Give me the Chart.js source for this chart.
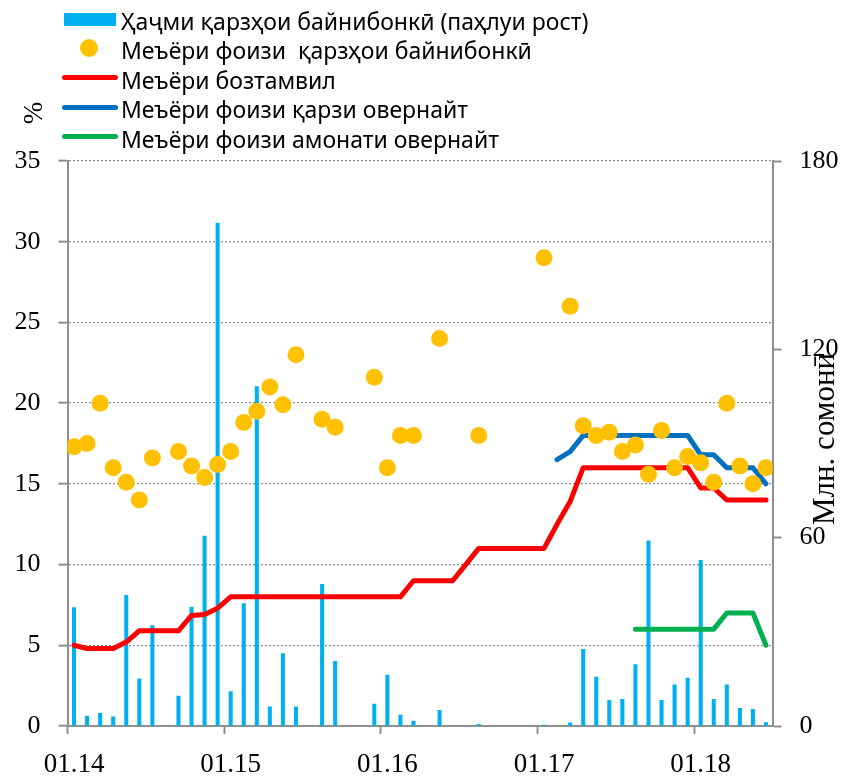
<!DOCTYPE html>
<html>
<head>
<meta charset="utf-8">
<script src="https://cdn.jsdelivr.net/npm/chart.js@4/dist/chart.umd.min.js"></script>
<style>
  html, body { margin: 0; padding: 0; background: #fff; }
  #wrap { position: relative; width: 844px; height: 776px; }
  #legend { position: absolute; left: 0; top: 0; font-family: "Noto Sans", sans-serif; font-size: 23px; color: #000; }
  .axis-title { position: absolute; font-family: "Liberation Serif", serif; color: #000; white-space: nowrap; transform: translate(-50%, -50%) rotate(-90deg); }
</style>
</head>
<body>
<div id="wrap">
  <canvas id="chart"></canvas>
  <div id="legend"></div>
  <div class="axis-title" style="left:33px; top:113px; font-size:27px;">%</div>
  <div class="axis-title" style="left:824px; top:439px; font-size:31px;">Млн. сомонӣ</div>
</div>
<script>
// months Jan 2014 .. Jun 2018
const months = [
  '01.14','02.14','03.14','04.14','05.14','06.14','07.14','08.14','09.14','10.14','11.14','12.14',
  '01.15','02.15','03.15','04.15','05.15','06.15','07.15','08.15','09.15','10.15','11.15','12.15',
  '01.16','02.16','03.16','04.16','05.16','06.16','07.16','08.16','09.16','10.16','11.16','12.16',
  '01.17','02.17','03.17','04.17','05.17','06.17','07.17','08.17','09.17','10.17','11.17','12.17',
  '01.18','02.18','03.18','04.18','05.18','06.18'
]
const tickLabels = ['01.14', '01.15', '01.16', '01.17', '01.18']

// interbank loans volume, mln somoni (right axis)
const loanVolume = [
  37.7, 3.2, 4.0, 2.9, 41.6, 15.0, 32.0, null, 9.5, 37.9, 60.5, 160.2,
  11.0, 39.0, 108.1, 6.1, 23.1, 6.1, null, 45.1, 20.6, null, null, 7.0,
  16.2, 3.5, 1.6, null, 5.0, null, null, 0.5, null, null, null, null,
  0.3, null, 1.0, 24.4, 15.6, 8.2, 8.5, 19.6, 59.0, 8.2, 13.1, 15.3,
  52.8, 8.5, 13.1, 5.6, 5.3, 1.1
]
// interbank loan rate, %
const loanRate = [
  17.3, 17.5, 20.0, 16.0, 15.1, 14.0, 16.6, null, 17.0, 16.1, 15.4, 16.2,
  17.0, 18.8, 19.5, 21.0, 19.9, 23.0, null, 19.0, 18.5, null, null, 21.6,
  16.0, 18.0, 18.0, null, 24.0, null, null, 18.0, null, null, null, null,
  29.0, null, 26.0, 18.6, 18.0, 18.2, 17.0, 17.4, 15.6, 18.3, 16.0, 16.7,
  16.3, 15.1, 20.0, 16.1, 15.0, 16.0
]
// refinancing rate, %
const refiRate = [
  5.0, 4.8, 4.8, 4.8, 5.2, 5.9, 5.9, 5.9, 5.9, 6.85, 6.9, 7.3,
  8, 8, 8, 8, 8, 8, 8, 8, 8, 8, 8, 8,
  8, 8, 9, 9, 9, 9, 10, 11, 11, 11, 11, 11,
  11, 12.5, 13.9, 16, 16, 16, 16, 16, 16, 16, 16, 16,
  14.75, 14.75, 14, 14, 14, 14
]
// overnight loan rate, %
const overnightLoan = [
  null, null, null, null, null, null, null, null, null, null, null, null,
  null, null, null, null, null, null, null, null, null, null, null, null,
  null, null, null, null, null, null, null, null, null, null, null, null,
  null, 16.5, 17.0, 18, 18, 18, 18, 18, 18, 18, 18, 18,
  16.8, 16.8, 16, 16, 16, 15
]
// overnight deposit rate, %
const overnightDeposit = [
  null, null, null, null, null, null, null, null, null, null, null, null,
  null, null, null, null, null, null, null, null, null, null, null, null,
  null, null, null, null, null, null, null, null, null, null, null, null,
  null, null, null, null, null, null, null, 6, 6, 6, 6, 6,
  6, 6, 7, 7, 7, 5
]

const toPoints = arr => arr.map((v, i) => ({ x: i + 0.5, y: v }))
const gray = '#8f8f8f'
const tickFont = { family: 'Liberation Serif', size: 26 }

const lineSet = (label, values, color) => ({
  type: 'line', label: label, data: toPoints(values), yAxisID: 'y',
  borderColor: color, backgroundColor: color, borderWidth: 5,
  borderJoinStyle: 'round', borderCapStyle: 'round',
  pointRadius: 0, tension: 0, spanGaps: false, order: 1
})

const datasets = [
  {
    type: 'bar', label: 'Ҳаҷми қарзҳои байнибонкӣ (паҳлуи рост)',
    data: toPoints(loanVolume), yAxisID: 'y1',
    backgroundColor: '#00b0f0', borderWidth: 0, barThickness: 3.4, order: 2
  },
  {
    type: 'line', label: 'Меъёри фоизи  қарзҳои байнибонкӣ',
    data: toPoints(loanRate), yAxisID: 'y', showLine: false,
    pointRadius: 8.5, pointBackgroundColor: '#ffc000', pointBorderWidth: 0,
    backgroundColor: '#ffc000', order: 0
  },
  lineSet('Меъёри бозтамвил', refiRate, '#ff0000'),
  lineSet('Меъёри фоизи қарзи овернайт', overnightLoan, '#0070c0'),
  lineSet('Меъёри фоизи амонати овернайт', overnightDeposit, '#00b050')
]

const chart = new Chart(document.getElementById('chart'), {
  type: 'bar',
  data: { datasets: datasets },
  options: {
    responsive: true,
    maintainAspectRatio: false,
    animation: false,
    layout: { padding: { top: 161, left: 0, right: 0, bottom: 0 } },
    plugins: { legend: { display: false }, tooltip: { enabled: false } },
    scales: {
      x: {
        type: 'linear', min: 0, max: months.length, offset: false,
        afterBuildTicks: s => { s.ticks = tickLabels.map((t, i) => ({ value: i * 12 })) },
        afterFit: s => { s.height = 50 },
        grid: { offset: false, drawOnChartArea: false, drawTicks: true, tickLength: 8, tickWidth: 2, tickColor: gray },
        border: { color: gray, width: 2 },
        ticks: {
          autoSkip: false, maxRotation: 0, labelOffset: 6.5, padding: 15,
          color: '#000', font: { family: 'Liberation Serif', size: 27 },
          callback: (v, i) => tickLabels[i]
        }
      },
      y: {
        position: 'left', min: 0, max: 35,
        afterFit: s => { s.width = 67.5 },
        grid: { color: gray, lineWidth: 1.3, tickLength: 9, tickWidth: 2, tickColor: gray, tickBorderDash: [] },
        border: { color: gray, width: 2, dash: [2, 2] },
        ticks: { stepSize: 5, padding: 18, color: '#000', font: tickFont }
      },
      y1: {
        position: 'right', min: 0, max: 180,
        afterFit: s => { s.width = 71.5 },
        grid: { drawOnChartArea: false, tickLength: 9, tickWidth: 2, tickColor: gray },
        border: { color: gray, width: 2 },
        ticks: { stepSize: 60, padding: 18, color: '#000', font: tickFont }
      }
    }
  }
})

// html legend, one row per dataset
function buildLegend (chart) {
  const box = document.getElementById('legend')
  chart.data.datasets.forEach((ds, i) => {
    const cy = 19 + 29.4 * i
    const sym = document.createElement('div')
    sym.style.position = 'absolute'
    if (ds.type === 'bar') {
      Object.assign(sym.style, { left: '64px', top: (cy - 6.5) + 'px', width: '52px', height: '13px', background: ds.backgroundColor })
    } else if (ds.showLine === false) {
      Object.assign(sym.style, { left: '80px', top: (cy - 9) + 'px', width: '18px', height: '18px', borderRadius: '50%', background: ds.pointBackgroundColor })
    } else {
      Object.assign(sym.style, { left: '62px', top: (cy - 2.5) + 'px', width: '56px', height: '5px', borderRadius: '3px', background: ds.borderColor })
    }
    box.appendChild(sym)
    const txt = document.createElement('div')
    Object.assign(txt.style, { position: 'absolute', left: '121px', top: (cy + 2 - 15) + 'px', lineHeight: '30px', whiteSpace: 'pre' })
    txt.textContent = ds.label
    box.appendChild(txt)
  })
}
buildLegend(chart)
</script>
</body>
</html>
